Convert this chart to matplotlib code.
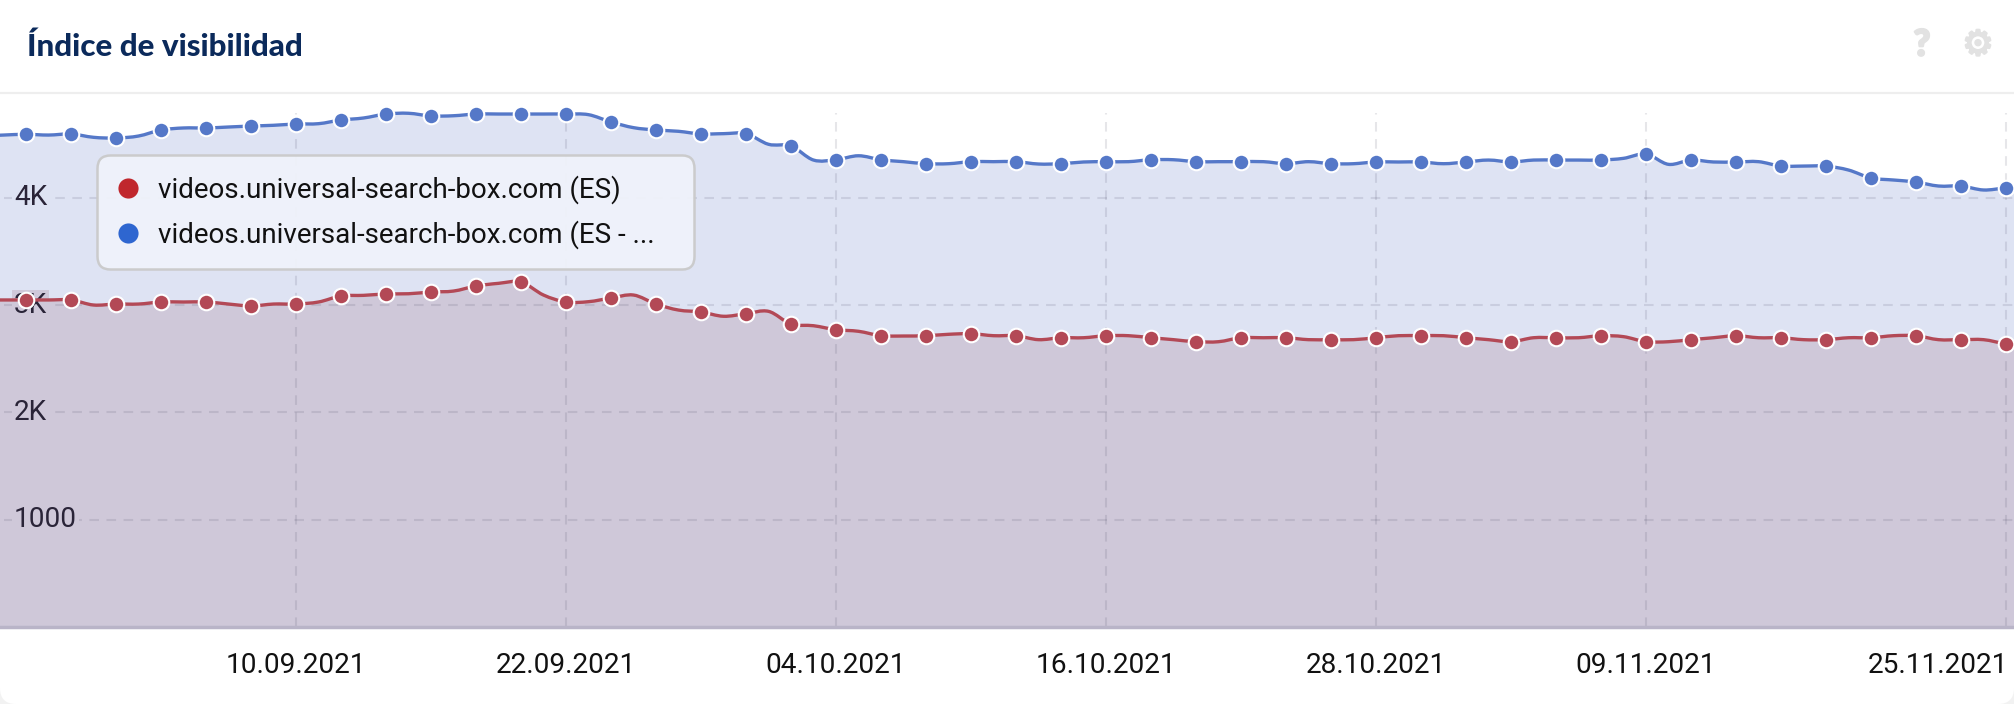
import numpy as np
import pandas as pd
import matplotlib
matplotlib.use('Agg')
import matplotlib.pyplot as plt
import matplotlib.dates as mdates
import matplotlib.patheffects as pe
from matplotlib.lines import Line2D
from matplotlib.patches import FancyBboxPatch, PathPatch
from matplotlib.path import Path
from matplotlib.transforms import IdentityTransform, ScaledTranslation, blended_transform_factory

START_DATE = '2021-08-27'

# Daily values, 27.08 -> 26.11 (markers sit on every second day from 29.08)
BLUE_VALUES = [
    4576, 4585, 4592, 4585, 4595,
    4564, 4557, 4576, 4632, 4651, 4651, 4660, 4669, 4676, 4688,
    4691, 4725, 4744, 4781, 4788, 4763, 4765, 4781, 4781, 4781,
    4781, 4781, 4775, 4707, 4654, 4632, 4620, 4595, 4598, 4598,
    4499, 4483, 4352, 4355, 4392, 4355, 4337, 4318, 4318, 4337,
    4337, 4337, 4315, 4318, 4334, 4337, 4337, 4355, 4355, 4337,
    4337, 4337, 4337, 4318, 4337, 4318, 4318, 4334, 4334, 4334, 4318,
    4334, 4352, 4334, 4352, 4352, 4352, 4352, 4368, 4408, 4312,
    4352, 4334, 4334, 4337, 4296, 4296, 4296, 4259, 4185, 4166,
    4147, 4110, 4110, 4073, 4091, 4091,
]
RED_VALUES = [
    3048, 3048, 3048, 3048, 3048,
    3001, 3010, 3010, 3029, 3029, 3029, 3010, 2992, 3010, 3010,
    3029, 3085, 3091, 3104, 3106, 3122, 3131, 3178, 3203, 3215,
    3094, 3029, 3032, 3066, 3094, 3010, 2954, 2936, 2896, 2920,
    2942, 2824, 2808, 2771, 2756, 2715, 2712, 2715, 2728, 2734,
    2715, 2715, 2678, 2696, 2696, 2715, 2715, 2696, 2678, 2659,
    2659, 2696, 2696, 2696, 2678, 2678, 2678, 2696, 2715, 2715, 2715,
    2696, 2678, 2659, 2696, 2696, 2696, 2715, 2706, 2659, 2659,
    2678, 2696, 2715, 2696, 2696, 2678, 2678, 2696, 2696, 2715,
    2715, 2678, 2678, 2678, 2641, 2641,
]
X_TICK_DATES = ['2021-09-10', '2021-09-22', '2021-10-04', '2021-10-16',
                '2021-10-28', '2021-11-09', '2021-11-25']
X_TICK_LABELS = ['10.09.2021', '22.09.2021', '04.10.2021', '16.10.2021',
                 '28.10.2021', '09.11.2021', '25.11.2021']
Y_TICKS = [1000, 2000, 3000, 4000]
Y_TICK_LABELS = ['1000', '2K', '3K', '4K']
Y_LABEL_BG = ['#cfc8d9', '#cfc8d9', '#cfc8d9', '#dee3f3']
SERIES_NAMES = ['videos.universal-search-box.com (ES)',
                'videos.universal-search-box.com (ES - ...']

BLUE = '#5578c8'
RED = '#b34956'
W, H = 2014, 704


def smooth_path(x, y):
    """Bezier path through the points, with soft tangents like the web chart"""
    x, y = np.asarray(x, float), np.asarray(y, float)
    slope = np.gradient(y, x)
    verts = [(x[0], y[0])]
    codes = [Path.MOVETO]
    for i in range(len(x) - 1):
        dx = (x[i + 1] - x[i]) / 3
        verts += [(x[i] + dx, y[i] + slope[i] * dx),
                  (x[i + 1] - dx, y[i + 1] - slope[i + 1] * dx),
                  (x[i + 1], y[i + 1])]
        codes += [Path.CURVE4] * 3
    return verts, codes


def draw_area(ax, x, y, fill_color, line_color, zorder):
    verts, codes = smooth_path(x, y)
    area = Path(verts + [(x[-1], 0), (x[0], 0), (x[0], 0)],
                codes + [Path.LINETO, Path.LINETO, Path.CLOSEPOLY])
    ax.add_patch(PathPatch(area, facecolor=fill_color, edgecolor='none', zorder=zorder))
    return Path(verts, codes)


plt.rcParams['font.family'] = ['Roboto', 'DejaVu Sans']
dpi = 100
fig = plt.figure(figsize=(W / dpi, H / dpi), dpi=dpi, facecolor='#f2f2f2')

# white card with rounded bottom corners
fig.add_artist(FancyBboxPatch((0, 0), W, H + 60,
                              boxstyle='round,pad=0,rounding_size=16',
                              transform=IdentityTransform(),
                              facecolor='white', edgecolor='none', zorder=-5))

# plot area: from the header rule (y=93) down to the baseline (y=627)
ax = fig.add_axes([0, (H - 627) / H, 1, (627 - 93) / H])
ax.patch.set_alpha(0)
for spine in ax.spines.values():
    spine.set_visible(False)

dates = pd.date_range(START_DATE, periods=len(BLUE_VALUES))
x = mdates.date2num(dates)
tick_x = mdates.date2num(pd.to_datetime(X_TICK_DATES))

# 22.5 px per day, 10.09 sits at x=296
ax.set_xlim(tick_x[0] - 296 / 22.5, tick_x[0] + (W - 296) / 22.5)
ax.set_ylim(0, 4977)

blue_line = draw_area(ax, x, BLUE_VALUES, '#dee3f3', BLUE, 1)
red_line = draw_area(ax, x, RED_VALUES, '#cfc8d9', RED, 1.1)

# dashed grid
ax.vlines(tick_x, 0, max(BLUE_VALUES), color='#35354f', alpha=0.12, linewidth=1.5,
          linestyles=(0, (4.6, 3.6)), zorder=2)
ax.hlines(Y_TICKS, ax.get_xlim()[0] + 4 / 22.5, ax.get_xlim()[1], color='#35354f', alpha=0.12,
          linewidth=1.5, linestyles=(0, (4.6, 3.6)), zorder=2)

# y labels sit inside the plot, under the lines
label_tf = blended_transform_factory(IdentityTransform(), ax.transData)
for val, lab, bg in zip(Y_TICKS, Y_TICK_LABELS, Y_LABEL_BG):
    ax.text(14, val, lab, transform=label_tf, fontsize=20.2, color='#2a2438',
            ha='left', va='center', zorder=2.5,
            bbox=dict(facecolor=bg, edgecolor='none', pad=1.5))

for path, color, vals in [(blue_line, BLUE, BLUE_VALUES), (red_line, RED, RED_VALUES)]:
    ax.add_patch(PathPatch(path, facecolor='none', edgecolor=color, linewidth=2.4, zorder=3))
    ax.plot(x[2::2], vals[2::2], linestyle='none', marker='o', markersize=11.2,
            markerfacecolor=color, markeredgecolor='white', markeredgewidth=1.5,
            zorder=4, clip_on=False)

# baseline and header rule
ax.axhline(0, color='#b9b4c8', linewidth=2.5, zorder=5, clip_on=False)
ax.axhline(ax.get_ylim()[1], color='#eeeeee', linewidth=1.6, zorder=5, clip_on=False)

ax.set_yticks([])
ax.set_xticks(tick_x)
ax.set_xticklabels(X_TICK_LABELS, fontsize=20.2, color='#111111')
ax.tick_params(axis='x', length=0, pad=18)
last = ax.get_xticklabels()[-1]
last.set_ha('right')
last.set_transform(last.get_transform() + ScaledTranslation(2 / dpi, 0, fig.dpi_scale_trans))

# legend box
handles = [Line2D([], [], linestyle='none', marker='o', markersize=14.5,
                  markerfacecolor=c, markeredgecolor='none')
           for c in ['#c0272d', '#2e66d0']]
leg = ax.legend(handles, SERIES_NAMES, loc='upper left', mode='expand',
                bbox_to_anchor=(97 / W, (H - 264) / H, 597 / W, 109 / H),
                bbox_transform=fig.transFigure,
                fontsize=20, frameon=True, fancybox=True, framealpha=0.93,
                facecolor='#f0f3fb', edgecolor='#c9c9c9',
                borderpad=0.72, labelspacing=0.58, handletextpad=0.69,
                handlelength=0.8, borderaxespad=0, shadow=False)
leg.set_zorder(6)
leg.get_frame().set_boxstyle('round', pad=0, rounding_size=0.45)
leg.get_frame().set_linewidth(1.8)
for t in leg.get_texts():
    t.set_color('#111111')

# header
fig.text(27 / W, (H - 56) / H, 'Índice de visibilidad', fontsize=22.6, fontweight='black',
         family='Lato', color='#0b2a5b', ha='left', va='baseline')
stroke = [pe.withStroke(linewidth=1.6, foreground='#e2e2e2')]
fig.text(1922 / W, (H - 45) / H, '?', fontsize=26, fontweight='black', family='Lato',
         color='#e2e2e2', ha='center', va='center', path_effects=stroke)
fig.text(1978 / W, (H - 45) / H, '\u2699', fontsize=25, family='DejaVu Sans',
         color='#e2e2e2', ha='center', va='center', path_effects=stroke)

fig.savefig('out.png', dpi=dpi, facecolor=fig.get_facecolor())
